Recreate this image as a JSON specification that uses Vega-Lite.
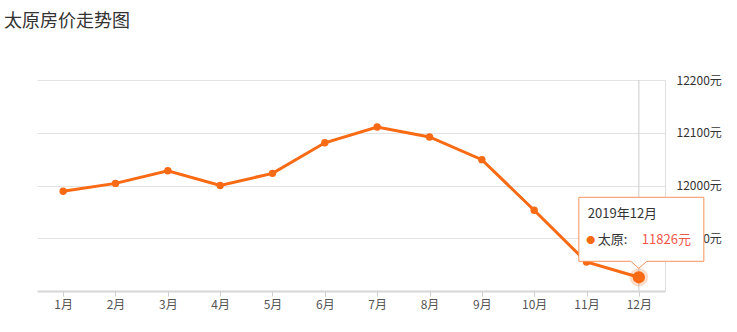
{
  "$schema": "https://vega.github.io/schema/vega-lite/v6.json",
  "width": 628,
  "height": 211,
  "autosize": {"type": "none"},
  "padding": {"left": 37, "top": 80, "right": 72, "bottom": 41},
  "background": "#ffffff",
  "title": {
    "text": "太原房价走势图",
    "anchor": "start",
    "frame": "group",
    "dx": -33,
    "offset": 25,
    "baseline": "bottom",
    "fontSize": 18,
    "fontWeight": "normal",
    "color": "#333333",
    "font": "Noto Sans CJK SC"
  },
  "config": {
    "view": {"stroke": null},
    "font": "Noto Sans CJK SC"
  },
  "data": {
    "values": [
      {"month": "1月", "value": 11989, "date": "2019年1月"},
      {"month": "2月", "value": 12004, "date": "2019年2月"},
      {"month": "3月", "value": 12028, "date": "2019年3月"},
      {"month": "4月", "value": 12000, "date": "2019年4月"},
      {"month": "5月", "value": 12023, "date": "2019年5月"},
      {"month": "6月", "value": 12081, "date": "2019年6月"},
      {"month": "7月", "value": 12111, "date": "2019年7月"},
      {"month": "8月", "value": 12092, "date": "2019年8月"},
      {"month": "9月", "value": 12049, "date": "2019年9月"},
      {"month": "10月", "value": 11953, "date": "2019年10月"},
      {"month": "11月", "value": 11855, "date": "2019年11月"},
      {"month": "12月", "value": 11826, "date": "2019年12月"}
    ]
  },
  "encoding": {
    "x": {
      "field": "month",
      "type": "ordinal",
      "sort": null,
      "scale": {"type": "point", "padding": 0.5, "domain": ["1月", "2月", "3月", "4月", "5月", "6月", "7月", "8月", "9月", "10月", "11月", "12月"]},
      "axis": {
        "title": null,
        "labelAngle": 0,
        "labelFontSize": 12,
        "labelColor": "#555555",
        "labelPadding": 3,
        "domainColor": "#d6d6d6",
        "domainWidth": 2,
        "tickColor": "#cccccc",
        "tickSize": 5,
        "grid": false
      }
    },
    "y": {
      "field": "value",
      "type": "quantitative",
      "scale": {"domain": [11800, 12200], "nice": false, "zero": false},
      "axis": {
        "orient": "right",
        "title": null,
        "values": [11900, 12000, 12100, 12200],
        "labelExpr": "datum.value + '元'",
        "labelFontSize": 12,
        "labelColor": "#333333",
        "labelPadding": 11,
        "ticks": false,
        "domainColor": "#dddddd",
        "domainWidth": 1,
        "gridColor": "#e3e3e3",
        "gridWidth": 1
      }
    }
  },
  "layer": [
    {
      "transform": [{"filter": "datum.month == '12月'"}],
      "mark": {"type": "rule", "color": "#cccccc", "strokeWidth": 1},
      "encoding": {"y": {"datum": 11800}, "y2": {"datum": 12200}}
    },
    {
      "mark": {"type": "line", "color": "#f96a14", "strokeWidth": 3}
    },
    {
      "mark": {"type": "point", "filled": true, "size": 55, "color": "#f96a14", "opacity": 1}
    },
    {
      "transform": [{"filter": "datum.month == '12月'"}],
      "mark": {"type": "point", "filled": true, "size": 340, "color": "#f96a14", "opacity": 0.22}
    },
    {
      "transform": [{"filter": "datum.month == '12月'"}],
      "mark": {"type": "point", "filled": true, "size": 150, "color": "#f96a14", "opacity": 1}
    },
    {
      "transform": [{"filter": "datum.month == '12月'"}],
      "mark": {
        "type": "point",
        "shape": "M-0.60,-0.80 L0.65,-0.80 L0.65,-0.16 L0.08,-0.16 L0,-0.09 L-0.08,-0.16 L-0.60,-0.16 Z",
        "size": 40000,
        "filled": true,
        "fill": "#ffffff",
        "fillOpacity": 1,
        "stroke": "#f7935a",
        "strokeWidth": 1,
        "opacity": 1
      }
    },
    {
      "transform": [{"filter": "datum.month == '12月'"}],
      "mark": {"type": "text", "align": "left", "baseline": "middle", "dx": -51, "dy": -63, "fontSize": 13, "color": "#333333"},
      "encoding": {"text": {"field": "date"}}
    },
    {
      "transform": [{"filter": "datum.month == '12月'"}],
      "mark": {"type": "text", "align": "center", "baseline": "middle", "dx": -48, "dy": -37, "fontSize": 9, "color": "#f96a14", "text": "●"}
    },
    {
      "transform": [{"filter": "datum.month == '12月'"}],
      "mark": {"type": "text", "align": "left", "baseline": "middle", "dx": -41, "dy": -37, "fontSize": 13, "color": "#333333", "text": "太原:"}
    },
    {
      "transform": [{"filter": "datum.month == '12月'"}, {"calculate": "datum.value + '元'", "as": "label"}],
      "mark": {"type": "text", "align": "left", "baseline": "middle", "dx": 3, "dy": -37, "fontSize": 13, "color": "#f0584a"},
      "encoding": {"text": {"field": "label"}}
    }
  ]
}
